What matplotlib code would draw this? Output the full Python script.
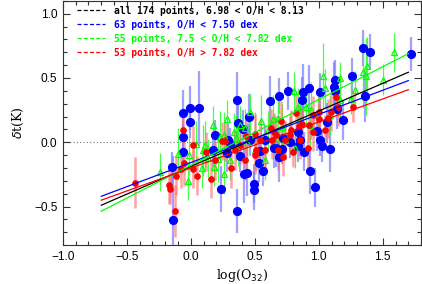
import numpy as np
import matplotlib
matplotlib.use("Agg")
import matplotlib.pyplot as plt
from matplotlib.ticker import MultipleLocator
from matplotlib.lines import Line2D

# ---- data ----
blue_x = [-0.063, -0.008, -0.008, 0.067, -0.063, -0.059, -0.145, -0.141, 0.172, 0.290,
          0.360, 0.368, 0.411, 0.458, 0.618, 0.692, 0.665, 0.540, 0.761, 0.869,
          0.880, 0.927, 1.009, 1.068, 1.115, 1.127, 1.127, 1.140, 1.192, 1.260,
          1.344, 1.362, 1.401, 1.719, 0.984, 0.840, 0.722, 0.235, 0.358, 0.417,
          0.436, 0.491, 0.491, 0.534, 0.566, 0.647, 0.686, 0.710, 0.835, 0.887,
          0.933, 0.973, 1.023, 1.088, 0.282, 0.305, 0.462, 0.579, 0.775, 0.188,
          0.853, 0.383, 1.009]
blue_y = [0.225, 0.264, 0.155, 0.264, 0.039, -0.074, -0.194, -0.605, -0.062, 0.019,
          0.326, 0.147, 0.101, 0.198, 0.318, 0.357, -0.043, -0.070, 0.399, 0.326,
          0.388, 0.419, 0.388, 0.155, 0.426, 0.395, 0.486, 0.256, 0.171, 0.516,
          0.736, 0.357, 0.705, 0.686, 0.085, 0.080, 0.036, -0.362, -0.535, -0.250,
          -0.240, -0.323, -0.374, -0.163, -0.222, -0.047, -0.111, -0.052, -0.033, -0.072,
          -0.222, -0.351, -0.033, -0.052, -0.085, -0.008, 0.016, 0.016, 0.000, 0.054,
          0.016, -0.109, 0.016]
blue_e = [0.18, 0.17, 0.12, 0.29, 0.10, 0.12, 0.12, 0.50, 0.12, 0.12,
          0.22, 0.20, 0.15, 0.18, 0.20, 0.14, 0.15, 0.12, 0.15, 0.18,
          0.22, 0.18, 0.15, 0.15, 0.20, 0.12, 0.15, 0.15, 0.15, 0.14,
          0.14, 0.20, 0.14, 0.13, 0.15, 0.15, 0.12, 0.18, 0.17, 0.22,
          0.18, 0.15, 0.15, 0.15, 0.12, 0.15, 0.20, 0.12, 0.12, 0.15,
          0.18, 0.15, 0.12, 0.18, 0.15, 0.12, 0.12, 0.12, 0.12, 0.12,
          0.12, 0.12, 0.12]

green_x = [0.810, 1.033, 1.049, 1.162, 1.344, 1.377, 1.369, 1.505, 1.588, 1.252,
           0.900, 0.172, 0.227, 0.282, 0.352, 0.548, 0.639, 0.835, 0.939, 0.996,
           0.775, 0.710, 0.683, 0.336, 0.110, -0.099, -0.012, 0.436, 0.370, -0.026,
           0.084, 0.096, 0.258, 0.182, 0.261, 0.209, 0.423, 0.501, 0.603, 0.736,
           0.853, 0.931, 1.088, 1.166, 0.501, 0.305, 0.579, 0.657, 0.814, 0.039,
           0.133, 0.383, 0.462, -0.243, 1.283]
green_y = [0.395, 0.519, 0.419, 0.498, 0.543, 0.597, 0.512, 0.488, 0.700, 0.336,
           0.275, 0.132, 0.041, 0.182, 0.035, 0.165, 0.184, 0.274, 0.248, 0.215,
           0.080, 0.119, 0.188, 0.080, -0.018, -0.093, -0.101, 0.002, -0.031, -0.302,
           -0.202, -0.062, 0.054, -0.194, -0.250, -0.129, 0.109, 0.054, 0.093, 0.016,
           0.171, 0.132, 0.209, 0.326, -0.062, -0.140, -0.140, 0.016, -0.047, -0.016,
           -0.124, 0.132, 0.233, -0.233, 0.403]
green_e = [0.15, 0.25, 0.15, 0.13, 0.28, 0.22, 0.30, 0.12, 0.15, 0.12,
           0.15, 0.15, 0.20, 0.15, 0.18, 0.20, 0.18, 0.15, 0.22, 0.15,
           0.15, 0.18, 0.20, 0.15, 0.18, 0.20, 0.15, 0.15, 0.15, 0.15,
           0.15, 0.20, 0.18, 0.15, 0.15, 0.18, 0.15, 0.18, 0.15, 0.15,
           0.18, 0.15, 0.15, 0.18, 0.15, 0.15, 0.15, 0.15, 0.15, 0.18,
           0.15, 0.15, 0.15, 0.15, 0.15]

red_x = [-0.060, -0.438, -0.170, -0.164, -0.125, -0.117, -0.078, -0.051, 0.020, 0.017,
         0.049, 0.121, 0.156, 0.246, 0.266, 0.313, 0.434, 0.505, 0.509, 0.579,
         0.649, 0.638, 0.683, 0.503, 0.718, 0.796, 0.913, 0.708, 0.819, 0.847,
         0.926, 0.952, 1.004, 1.004, 1.095, 1.138, 1.149, 1.268, 0.957, 0.866,
         1.070, 0.626, 0.782, 0.665, 0.383, 0.540, 0.736, 0.853, 0.423, 0.344,
         1.049, 0.775, 0.188]
red_y = [0.093, -0.314, -0.333, -0.364, -0.535, -0.260, -0.209, -0.163, -0.023, -0.205,
         -0.260, -0.072, -0.287, 0.009, 0.008, -0.202, 0.047, 0.066, -0.062, -0.062,
         0.080, 0.021, -0.062, -0.098, -0.111, -0.072, -0.047, 0.168, 0.227, 0.124,
         0.132, 0.209, 0.178, 0.236, 0.236, 0.350, 0.275, 0.277, 0.081, 0.145,
         0.186, 0.109, 0.098, 0.054, -0.023, 0.016, 0.016, 0.016, -0.140, -0.062,
         0.093, 0.054, -0.140]
red_e = [0.10, 0.20, 0.15, 0.12, 0.20, 0.15, 0.15, 0.18, 0.15, 0.15,
         0.15, 0.15, 0.15, 0.15, 0.15, 0.15, 0.15, 0.15, 0.15, 0.15,
         0.15, 0.15, 0.15, 0.15, 0.15, 0.12, 0.15, 0.15, 0.15, 0.15,
         0.12, 0.15, 0.12, 0.12, 0.15, 0.12, 0.15, 0.12, 0.15, 0.12,
         0.15, 0.15, 0.15, 0.15, 0.15, 0.15, 0.15, 0.15, 0.15, 0.15,
         0.12, 0.15, 0.15]

# linear fits: slope, intercept
fit_labels = ["all 174 points, 6.98 < O/H < 8.13",
              "63 points, O/H < 7.50 dex",
              "55 points, 7.5 < O/H < 7.82 dex",
              "53 points, O/H > 7.82 dex"]
fit_colors = ["black", "#0000ff", "#00ff00", "#ff0000"]
fit_slope = [0.431, 0.375, 0.511, 0.358]
fit_icept = [-0.188, -0.158, -0.179, -0.200]
fit_xrange = [-0.7, 1.7]

fig = plt.figure(figsize=(4.22, 2.84), dpi=100)
ax = fig.add_axes([0.149, 0.137, 0.849, 0.86])

ax.errorbar(blue_x, blue_y, yerr=blue_e, fmt='none', ecolor='#7a7aff', elinewidth=1.6, alpha=0.7, zorder=2)
ax.errorbar(green_x, green_y, yerr=green_e, fmt='none', ecolor='#33ff33', elinewidth=0.9, alpha=0.9, zorder=2)
ax.errorbar(red_x, red_y, yerr=red_e, fmt='none', ecolor='#ff7070', elinewidth=1.8, alpha=0.65, zorder=2)
ax.plot(blue_x, blue_y, 'o', color='#0000ff', ms=5.6, mec='#0000ff', zorder=3, lw=0)
ax.plot(green_x, green_y, '^', mfc='none', mec='#00ff00', ms=4.2, mew=0.9, zorder=3, lw=0)
ax.plot(red_x, red_y, 'o', color='#ff0000', ms=3.8, zorder=3, lw=0)

ax.axhline(0, color='#777777', ls=(0, (1, 2)), lw=0.8, zorder=1)

xs = np.array(fit_xrange)
for s, b, c in zip(fit_slope, fit_icept, fit_colors):
    ax.plot(xs, s * xs + b, color=c, lw=0.9, zorder=4)

handles = [Line2D([0], [0], color=c, lw=0.9, ls=(0, (3.2, 1.8))) for c in fit_colors]
leg = ax.legend(handles, fit_labels, loc='upper left', bbox_to_anchor=(0.022, 1.008),
                frameon=False, handlelength=2.9, handletextpad=0.9, labelspacing=0.42,
                prop={'family': 'DejaVu Sans Mono', 'size': 6.9, 'weight': 'bold'},
                labelcolor='linecolor', borderaxespad=0.3)

ax.set_xlim(-1, 1.8)
ax.set_ylim(-0.8, 1.1)
ax.xaxis.set_major_locator(MultipleLocator(0.5))
ax.xaxis.set_minor_locator(MultipleLocator(0.1))
ax.yaxis.set_major_locator(MultipleLocator(0.5))
ax.yaxis.set_minor_locator(MultipleLocator(0.1))
ax.tick_params(which='both', direction='in', top=True, right=True, color='#333333', width=0.8)
ax.tick_params(which='major', length=5.0, labelsize=8.6, pad=4)
ax.tick_params(which='minor', length=2.6)
for lab in ax.get_xticklabels() + ax.get_yticklabels():
    lab.set_family('Liberation Sans')
for sp in ax.spines.values():
    sp.set_color('#333333')
    sp.set_linewidth(0.8)

ax.set_xlabel(r'log(O$_{32}$)', family='DejaVu Serif', fontsize=9, labelpad=3)
ax.set_ylabel(r'$\delta$t(K)', family='DejaVu Serif', fontsize=9, labelpad=6)

fig.savefig('out.png', dpi=100)
